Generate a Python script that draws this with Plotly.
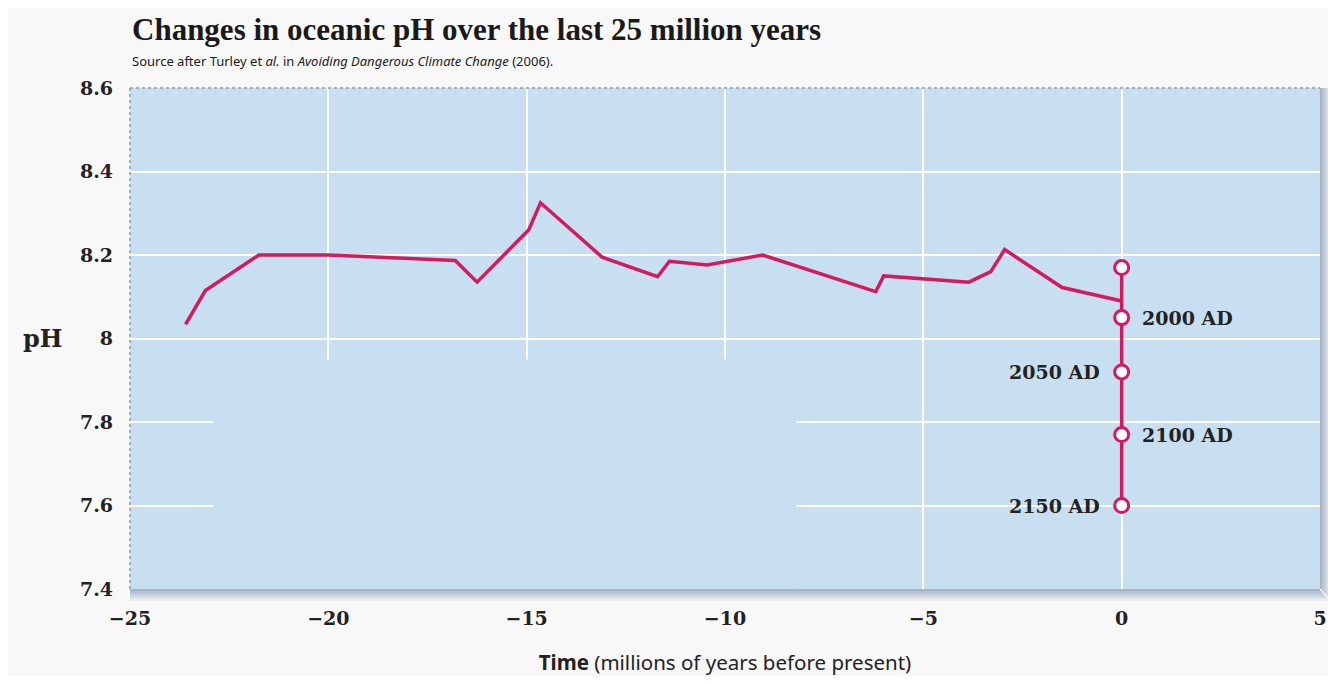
import plotly.graph_objects as go

# pH record over the last 25 million years
hist_time = [-23.6, -23.1, -21.75, -20.0, -16.8, -16.25, -14.95, -14.65, -13.1,
             -11.7, -11.4, -10.45, -9.05, -6.2, -6.0, -3.85, -3.3, -2.95, -1.5, 0.0]
hist_ph = [8.034, 8.115, 8.2, 8.2, 8.187, 8.135, 8.26, 8.325, 8.195,
           8.148, 8.185, 8.176, 8.2, 8.112, 8.15, 8.135, 8.16, 8.213, 8.122, 8.09]

# projections at the present day
proj_time = [0, 0, 0, 0, 0]
proj_ph = [8.17, 8.05, 7.92, 7.77, 7.6]
proj_labels = ["", "2000 AD", "2050 AD", "2100 AD", "2150 AD"]

x_ticks = [-25, -20, -15, -10, -5, 0, 5]
y_ticks = [7.4, 7.6, 7.8, 8.0, 8.2, 8.4, 8.6]

LINE = "#d41a5f"
BG = "#c8def1"
TICKFONT = dict(family="DejaVu Serif", size=19, color="#222222", weight="bold")

fig = go.Figure()
fig.add_trace(go.Scatter(x=hist_time, y=hist_ph, mode="lines",
                         line=dict(color=LINE, width=3.5), hoverinfo="x+y"))
fig.add_trace(go.Scatter(x=proj_time, y=proj_ph, mode="lines+markers",
                         line=dict(color=LINE, width=3.5),
                         marker=dict(size=14, color="white", line=dict(color=LINE, width=3))))

# projection labels, alternating sides
for i, (yy, lab) in enumerate(zip(proj_ph, proj_labels)):
    if not lab:
        continue
    right = lab in ("2000 AD", "2100 AD")
    fig.add_annotation(x=proj_time[i], y=yy, text=lab, showarrow=False,
                       xanchor="left" if right else "right",
                       xshift=18 if right else -20,
                       font=dict(family="DejaVu Serif", size=19, color="#222222", weight="bold"))

# faded patch where the original's grid is missing
fig.add_shape(type="rect", xref="x", yref="y", x0=-22.9, x1=-8.2, y0=7.4, y1=7.95,
              fillcolor=BG, line_width=0, layer="between")

# dotted frame on top and left
fig.add_shape(type="line", xref="paper", yref="paper", x0=0, x1=1, y0=1, y1=1,
              line=dict(color="#8d99a6", width=1.5, dash="dot"))
fig.add_shape(type="line", xref="paper", yref="paper", x0=0, x1=0, y0=0, y1=1,
              line=dict(color="#8d99a6", width=1.5, dash="dot"))

# drop shadow below / right of the plot area
for k in range(6):
    op = 0.45 * (1 - k / 6)
    fig.add_shape(type="rect", xref="paper", yref="paper",
                  x0=0, x1=1.0 + 0.0015 * k, y0=-0.004 * (k + 1), y1=-0.004 * k,
                  fillcolor="#46618f", opacity=op, line_width=0)
    fig.add_shape(type="rect", xref="paper", yref="paper",
                  x0=1.0 + 0.0015 * k, x1=1.0 + 0.0015 * (k + 1), y0=-0.004 * k, y1=1,
                  fillcolor="#46618f", opacity=op, line_width=0)

fig.add_annotation(xref="paper", yref="paper", x=0, y=1, yshift=39,
                   xanchor="left", yanchor="bottom", showarrow=False,
                   text="<b>Changes in oceanic pH over the last 25 million years</b>",
                   font=dict(family="Liberation Serif", size=31, color="#1a1a1a"))
fig.add_annotation(xref="paper", yref="paper", x=0, y=1, yshift=16,
                   xanchor="left", yanchor="bottom", showarrow=False,
                   text="Source after Turley et <i>al.</i> in <i>Avoiding Dangerous Climate Change</i> (2006).",
                   font=dict(family="Noto Sans", size=13, color="#1a1a1a"))
fig.add_annotation(xref="paper", yref="y", x=0, y=8.0, xshift=-88, xanchor="center",
                   showarrow=False, text="<b>pH</b>",
                   font=dict(family="DejaVu Serif", size=24, color="#222222"))

fig.update_layout(
    width=1320, height=668,
    margin=dict(l=122, r=8, t=80, b=87),
    paper_bgcolor="#f8f8f8", plot_bgcolor=BG,
    showlegend=False,
    xaxis=dict(range=[-25, 5], tickvals=x_ticks, showgrid=True, gridcolor="white",
               gridwidth=2, zeroline=False, tickfont=TICKFONT, ticklabelstandoff=16,
               automargin=False,
               title=dict(text="<b>Time</b> (millions of years before present)",
                          font=dict(family="Noto Sans", size=20.5, color="#222222"),
                          standoff=28)),
    yaxis=dict(range=[7.4, 8.6], tickvals=y_ticks, showgrid=True, gridcolor="white",
               gridwidth=2, zeroline=False, tickfont=TICKFONT, ticklabelstandoff=16,
               automargin=False),
)

fig.write_html("out.html")
